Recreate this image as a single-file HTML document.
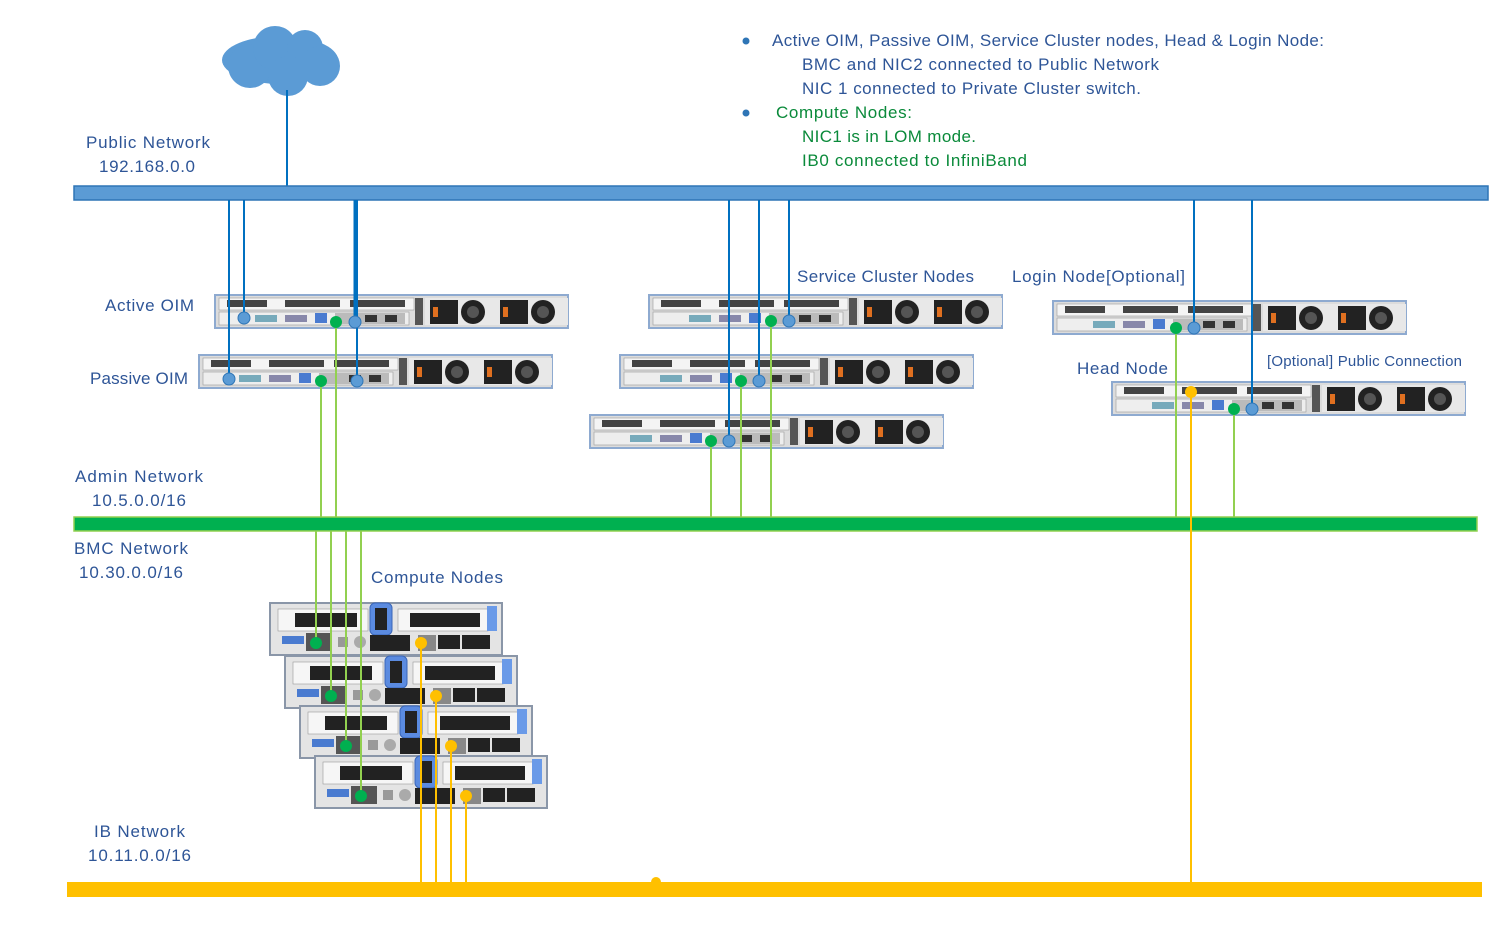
<!DOCTYPE html>
<html><head><meta charset="utf-8"><style>
html,body{margin:0;padding:0;background:#fff;}
svg{display:block;}
text{font-family:"Liberation Sans",sans-serif;font-size:17px;}
.b{fill:#2e5597;}
.g{fill:#0a8a3a;}
</style></head><body>
<svg width="1505" height="932" viewBox="0 0 1505 932" xmlns="http://www.w3.org/2000/svg">
<defs>
<g id="rs">
 <rect x="0" y="0" width="353" height="33" fill="#dcdcdc" stroke="#8eaad0" stroke-width="2"/>
 <rect x="4" y="3" width="195" height="12" fill="#f4f4f4" stroke="#999" stroke-width="0.6"/>
 <rect x="12" y="5" width="40" height="7" fill="#444"/>
 <rect x="70" y="5" width="55" height="7" fill="#444"/>
 <rect x="135" y="5" width="55" height="7" fill="#444"/>
 <rect x="4" y="17" width="190" height="13" fill="#eee" stroke="#999" stroke-width="0.6"/>
 <rect x="40" y="20" width="22" height="7" fill="#7ab" />
 <rect x="70" y="20" width="22" height="7" fill="#88a"/>
 <rect x="100" y="18" width="12" height="10" fill="#4a7bd0"/>
 <rect x="120" y="18" width="70" height="11" fill="#bbb"/>
 <rect x="150" y="20" width="12" height="7" fill="#333"/>
 <rect x="170" y="20" width="12" height="7" fill="#333"/>
 <rect x="200" y="3" width="8" height="27" fill="#555"/>
 <rect x="210" y="3" width="143" height="27" fill="#e8e8e8"/>
 <rect x="215" y="5" width="28" height="24" fill="#222"/><rect x="218" y="12" width="5" height="10" fill="#e07020"/>
 <circle cx="258" cy="17" r="12" fill="#222"/><circle cx="258" cy="17" r="6" fill="#555"/>
 <rect x="285" y="5" width="28" height="24" fill="#222"/><rect x="288" y="12" width="5" height="10" fill="#e07020"/>
 <circle cx="328" cy="17" r="12" fill="#222"/><circle cx="328" cy="17" r="6" fill="#555"/>
</g>
<g id="cn">
 <rect x="0" y="0" width="232" height="52" fill="#e4e4e4" stroke="#8a96a8" stroke-width="2"/>
 <rect x="8" y="6" width="90" height="22" fill="#f6f6f6" stroke="#999" stroke-width="0.6"/>
 <rect x="25" y="10" width="62" height="14" fill="#222"/>
 <rect x="128" y="6" width="90" height="22" fill="#f6f6f6" stroke="#999" stroke-width="0.6"/>
 <rect x="140" y="10" width="70" height="14" fill="#222"/>
 <rect x="100" y="0" width="22" height="32" rx="5" fill="#5b8be0" stroke="#3a66b8"/>
 <rect x="105" y="5" width="12" height="22" fill="#222"/>
 <rect x="12" y="33" width="22" height="8" fill="#4a7bd0"/>
 <rect x="36" y="30" width="26" height="18" fill="#555"/>
 <rect x="68" y="34" width="10" height="10" fill="#999"/>
 <circle cx="90" cy="39" r="6" fill="#aaa"/>
 <rect x="100" y="32" width="40" height="16" fill="#222"/>
 <rect x="148" y="32" width="18" height="16" fill="#888"/>
 <rect x="168" y="32" width="22" height="14" fill="#222"/>
 <rect x="192" y="32" width="28" height="14" fill="#222"/>
 <rect x="217" y="3" width="10" height="25" fill="#6a9ae8"/>
</g>
</defs>

<!-- cloud -->
<g fill="#5b9bd5">
<ellipse cx="280" cy="60" rx="58" ry="24"/>
<circle cx="250" cy="66" r="22"/><circle cx="275" cy="48" r="22"/><circle cx="305" cy="48" r="18"/><circle cx="320" cy="66" r="20"/><circle cx="288" cy="76" r="20"/>
</g>
<line x1="287" y1="90" x2="287" y2="186" stroke="#0070c0" stroke-width="2"/>

<!-- bars -->
<rect x="74" y="186" width="1414" height="14" fill="#5b9bd5" stroke="#2e75b6" stroke-width="1.5"/>
<rect x="74" y="517" width="1403" height="14" fill="#00b050" stroke="#92d050" stroke-width="1.5"/>
<rect x="67" y="882" width="1415" height="15" fill="#ffc000"/>
<circle cx="656" cy="882" r="5" fill="#ffc000"/>

<!-- servers -->
<use href="#rs" x="215" y="295"/>
<use href="#rs" x="199" y="355"/>
<use href="#rs" x="649" y="295"/>
<use href="#rs" x="620" y="355"/>
<use href="#rs" x="590" y="415"/>
<use href="#rs" x="1053" y="301"/>
<use href="#rs" x="1112" y="382"/>

<use href="#cn" x="270" y="603"/>
<use href="#cn" x="285" y="656"/>
<use href="#cn" x="300" y="706"/>
<use href="#cn" x="315" y="756"/>

<!-- blue lines -->
<g stroke="#0070c0" stroke-width="2" fill="none">
<line x1="229" y1="200" x2="229" y2="379"/>
<line x1="244" y1="200" x2="244" y2="318"/>
<line x1="355" y1="200" x2="355" y2="322" stroke-width="3"/>
<line x1="357" y1="200" x2="357" y2="381"/>
<line x1="729" y1="200" x2="729" y2="441"/>
<line x1="759" y1="200" x2="759" y2="381"/>
<line x1="789" y1="200" x2="789" y2="321"/>
<line x1="1194" y1="200" x2="1194" y2="328"/>
<line x1="1252" y1="200" x2="1252" y2="409"/>
</g>
<g fill="#5b9bd5" stroke="#2e75b6">
<circle cx="244" cy="318" r="6"/><circle cx="355" cy="322" r="6"/><circle cx="229" cy="379" r="6"/><circle cx="357" cy="381" r="6"/>
<circle cx="729" cy="441" r="6"/><circle cx="759" cy="381" r="6"/><circle cx="789" cy="321" r="6"/>
<circle cx="1194" cy="328" r="6"/><circle cx="1252" cy="409" r="6"/>
</g>

<!-- green lines -->
<g stroke="#92d050" stroke-width="2">
<line x1="336" y1="322" x2="336" y2="517"/><line x1="321" y1="381" x2="321" y2="517"/>
<line x1="771" y1="321" x2="771" y2="517"/><line x1="741" y1="381" x2="741" y2="517"/><line x1="711" y1="441" x2="711" y2="517"/>
<line x1="1176" y1="328" x2="1176" y2="517"/><line x1="1234" y1="409" x2="1234" y2="517"/>
<line x1="316" y1="531" x2="316" y2="643"/><line x1="331" y1="531" x2="331" y2="696"/><line x1="346" y1="531" x2="346" y2="746"/><line x1="361" y1="531" x2="361" y2="796"/>
</g>
<g fill="#00b050">
<circle cx="336" cy="322" r="6"/><circle cx="321" cy="381" r="6"/><circle cx="771" cy="321" r="6"/><circle cx="741" cy="381" r="6"/><circle cx="711" cy="441" r="6"/>
<circle cx="1176" cy="328" r="6"/><circle cx="1234" cy="409" r="6"/>
<circle cx="316" cy="643" r="6"/><circle cx="331" cy="696" r="6"/><circle cx="346" cy="746" r="6"/><circle cx="361" cy="796" r="6"/>
</g>

<!-- yellow lines -->
<g stroke="#ffc000" stroke-width="2">
<line x1="421" y1="643" x2="421" y2="882"/><line x1="436" y1="696" x2="436" y2="882"/><line x1="451" y1="746" x2="451" y2="882"/><line x1="466" y1="796" x2="466" y2="882"/>
<line x1="1191" y1="392" x2="1191" y2="882"/>
</g>
<g fill="#ffc000">
<circle cx="421" cy="643" r="6"/><circle cx="436" cy="696" r="6"/><circle cx="451" cy="746" r="6"/><circle cx="466" cy="796" r="6"/><circle cx="1191" cy="392" r="6"/>
</g>

<!-- labels -->
<text class="b" x="86" y="148" textLength="124">Public Network</text>
<text class="b" x="99" y="172" textLength="96">192.168.0.0</text>
<text class="b" x="105" y="311" textLength="89">Active OIM</text>
<text class="b" x="90" y="384" textLength="98">Passive OIM</text>
<text class="b" x="797" y="282" textLength="177">Service Cluster Nodes</text>
<text class="b" x="1012" y="282" textLength="173">Login Node[Optional]</text>
<text class="b" x="1077" y="374" textLength="91">Head Node</text>
<text class="b" x="1267" y="366" style="font-size:15px" textLength="195">[Optional] Public Connection</text>
<text class="b" x="75" y="482" textLength="128">Admin Network</text>
<text class="b" x="92" y="506" textLength="94">10.5.0.0/16</text>
<text class="b" x="74" y="554" textLength="114">BMC Network</text>
<text class="b" x="79" y="578" textLength="104">10.30.0.0/16</text>
<text class="b" x="371" y="583" textLength="132">Compute Nodes</text>
<text class="b" x="94" y="837" textLength="91">IB Network</text>
<text class="b" x="88" y="861" textLength="103">10.11.0.0/16</text>

<circle cx="746" cy="41" r="3.5" fill="#2e75b6"/>
<circle cx="746" cy="113" r="3.5" fill="#2e75b6"/>
<text class="b" x="772" y="46" textLength="552">Active OIM, Passive OIM, Service Cluster nodes, Head &amp; Login Node:</text>
<text class="b" x="802" y="70" textLength="357">BMC and NIC2 connected to Public Network</text>
<text class="b" x="802" y="94" textLength="339">NIC 1 connected to Private Cluster switch.</text>
<text class="g" x="776" y="118" textLength="136">Compute Nodes:</text>
<text class="g" x="802" y="142" textLength="174">NIC1 is in LOM mode.</text>
<text class="g" x="802" y="166" textLength="225">IB0 connected to InfiniBand</text>
</svg>
</body></html>
